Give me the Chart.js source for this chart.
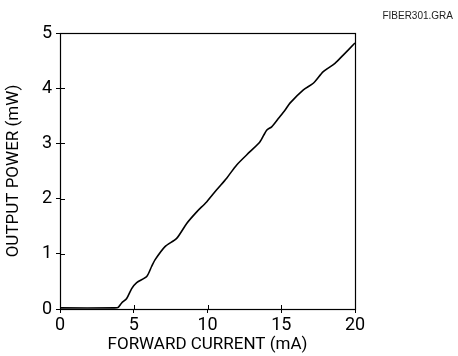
<!DOCTYPE html>
<html>
<head>
<meta charset="utf-8">
<title>Output power vs forward current</title>
<script src="https://cdn.jsdelivr.net/npm/chart.js@4"></script>
<style>
  html, body { margin: 0; padding: 0; background: #fff; }
  canvas { display: block; }
</style>
</head>
<body>
<canvas id="chart-fiber" width="458" height="356"></canvas>
<script>
// valori (mA -> mW)
const currentMa = [0, 3.7, 3.95, 4.18, 4.52, 4.86, 5.2, 5.88, 6.21, 6.44, 7.12, 7.91, 8.59, 9.27, 9.94,
  10.62, 11.3, 11.98, 12.88, 13.56, 14.01, 14.35, 14.8, 15.25, 15.59, 16.5, 17.17, 17.85, 18.64, 19.2, 19.93, 20];
const powerMw = [0.02, 0.02, 0.03, 0.11, 0.19, 0.37, 0.48, 0.59, 0.77, 0.89, 1.13, 1.28, 1.55, 1.76, 1.94,
  2.16, 2.37, 2.61, 2.85, 3.03, 3.24, 3.30, 3.45, 3.60, 3.73, 3.97, 4.09, 4.30, 4.45, 4.60, 4.80, 4.82];
const xTicks = [0, 5, 10, 15, 20];
const yTicks = [0, 1, 2, 3, 4, 5];
const fileTag = 'FIBER301.GRA';

const narrow = "'Liberation Sans Narrow', Roboto, 'Liberation Sans', sans-serif";

// cornice + tacche interne + etichetta file
const framePlugin = {
  id: 'frame',
  afterDraw(chart) {
    const { ctx, chartArea: a, scales } = chart;
    ctx.save();
    ctx.strokeStyle = '#000';
    ctx.lineWidth = 1.2;
    ctx.strokeRect(a.left + 0.5, a.top + 0.5, a.right - a.left, a.bottom - a.top);
    ctx.lineWidth = 1;
    xTicks.slice(1, -1).forEach(v => {
      const px = Math.round(scales.x.getPixelForValue(v)) + 0.5;
      ctx.beginPath();
      ctx.moveTo(px, a.bottom);
      ctx.lineTo(px, a.bottom - 4);
      ctx.stroke();
    });
    yTicks.slice(1, -1).forEach(v => {
      const py = Math.round(scales.y.getPixelForValue(v)) + 0.5;
      ctx.beginPath();
      ctx.moveTo(a.left, py);
      ctx.lineTo(a.left + 5, py);
      ctx.stroke();
    });
    ctx.fillStyle = '#222';
    ctx.font = "10px 'Liberation Sans', Arial, sans-serif";
    ctx.textAlign = 'right';
    ctx.textBaseline = 'alphabetic';
    ctx.fillText(fileTag, 453, 19);
    ctx.restore();
  }
};

const points = currentMa.map((x, i) => ({ x, y: powerMw[i] }));

new Chart(document.getElementById('chart-fiber'), {
  type: 'line',
  data: {
    datasets: [{
      label: 'Output power',
      data: points,
      borderColor: '#000',
      borderWidth: 1.6,
      pointRadius: 0,
      tension: 0.25,
      fill: false,
    }],
  },
  options: {
    responsive: false,
    animation: false,
    devicePixelRatio: 1,
    layout: { padding: { top: 33, right: 103, bottom: 0, left: 0 } },
    plugins: {
      legend: { display: false },
      tooltip: { enabled: false },
    },
    scales: {
      x: {
        type: 'linear',
        min: 0,
        max: 20,
        afterFit: s => { s.height = 47; },
        afterBuildTicks: s => { s.ticks = xTicks.map(v => ({ value: v })); },
        border: { display: false },
        grid: { drawOnChartArea: false, tickLength: 4, color: '#000' },
        ticks: { color: '#000', padding: 2, maxRotation: 0, font: { family: narrow, size: 18 } },
        title: {
          display: true,
          text: 'FORWARD CURRENT (mA)',
          color: '#000',
          padding: { top: 0, bottom: 1 },
          font: { family: narrow, size: 17 },
        },
      },
      y: {
        type: 'linear',
        min: 0,
        max: 5,
        afterFit: s => { s.width = 60; },
        afterBuildTicks: s => { s.ticks = yTicks.map(v => ({ value: v })); },
        border: { display: false },
        grid: { drawOnChartArea: false, tickLength: 4, color: '#000' },
        ticks: { color: '#000', padding: 4, font: { family: narrow, size: 18 } },
        title: {
          display: true,
          text: 'OUTPUT POWER (mW)',
          color: '#000',
          padding: { top: 4, bottom: 0 },
          font: { family: narrow, size: 17 },
        },
      },
    },
  },
  plugins: [framePlugin],
});
</script>
</body>
</html>
